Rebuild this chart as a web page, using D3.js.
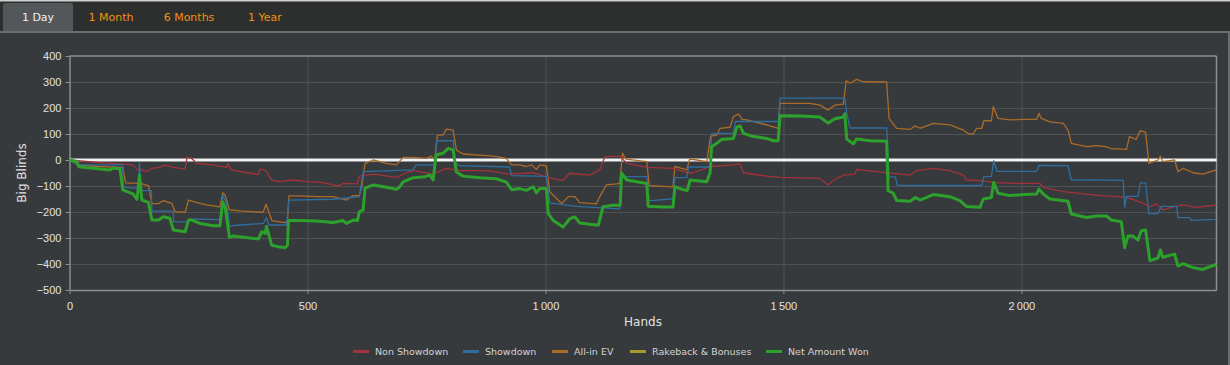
<!DOCTYPE html>
<html>
<head>
<meta charset="utf-8">
<script src="https://cdn.jsdelivr.net/npm/d3@7"></script>
<style>
  html, body { margin: 0; padding: 0; background: #373a3d; }
  body { width: 1230px; height: 365px; overflow: hidden; font-family: "DejaVu Sans", Verdana, sans-serif; }
  .axis text { fill: #e2e2e2; font-size: 11px; }
  .axis path, .axis line { stroke: #8c8e90; }
  .grid line { stroke: #4e5255; }
  .line { fill: none; stroke-linejoin: round; }
</style>
</head>
<body>
<div id="chart"></div>
<script>
// tabs above the chart
const tabs = ['1 Day', '1 Month', '6 Months', '1 Year'];
const tabX = [38, 111, 189, 265];

const yTicks = [400, 300, 200, 100, 0, -100, -200, -300, -400, -500];
const xTicks = [0, 500, 1000, 1500, 2000];

const seriesNames = ['Non Showdown', 'Showdown', 'All-in EV', 'Rakeback & Bonuses', 'Net Amount Won'];
const seriesColors = ['#a3323a', '#2f6e9f', '#ab6b28', '#a39b2c', '#2ca22c'];

// [hand, big blinds]
const nonShowdown = [
  [0, 0], [64, -10], [106, -15], [134, -19], [142, -38], [152, -38], [162, -45], [173, -32], [190, -28],
  [200, -19], [218, -28], [243, -35], [247, 10], [257, 6], [267, -13], [302, -19], [330, -28], [333, -15],
  [340, -38], [372, -49], [397, -55], [400, -35], [411, -38], [425, -77], [442, -83], [470, -77], [498, -83],
  [533, -87], [554, -96], [564, -100], [575, -90], [605, -92], [609, -62], [638, -54], [687, -67], [708, -49],
  [722, -41], [764, -54], [792, -32], [820, -41], [876, -41], [925, -54], [974, -49], [1016, -72], [1037, -78],
  [1051, -51], [1093, -58], [1114, -38], [1125, 13], [1156, 15], [1171, -13], [1213, -28], [1268, -32],
  [1297, -49], [1311, -49], [1346, -25], [1395, -19], [1409, -15], [1416, -49], [1465, -62], [1493, -67],
  [1577, -71], [1594, -96], [1608, -74], [1626, -58], [1650, -54], [1654, -36], [1696, -45], [1745, -54],
  [1766, -58], [1780, -41], [1815, -32], [1850, -41], [1878, -58], [1885, -77], [1913, -79], [1948, -87],
  [1990, -90], [2039, -90], [2046, -105], [2088, -122], [2137, -131], [2172, -138], [2207, -141], [2234, -151],
  [2256, -167], [2270, -180], [2284, -169], [2298, -192], [2319, -180], [2340, -173], [2368, -182], [2410, -173]
];

const showdown = [
  [0, 0], [18, -19], [112, -19], [113, -103], [128, -108], [146, -108], [147, -11], [150, -118], [172, -118],
  [173, -197], [218, -197], [219, -238], [245, -238], [257, -227], [316, -229], [322, -135], [330, -167],
  [336, -254], [358, -250], [407, -244], [414, -222], [419, -250], [456, -250], [461, -154], [554, -151],
  [609, -141], [617, -45], [722, -38], [728, -19], [768, -19], [771, 74], [806, 74], [811, -12], [820, -22],
  [925, -27], [929, -60], [1002, -63], [1009, -165], [1065, -178], [1156, -188], [1160, -64], [1213, -64],
  [1218, -157], [1268, -149], [1272, -68], [1297, -68], [1301, -27], [1346, -27], [1349, 101], [1395, 103],
  [1399, 148], [1490, 148], [1493, 238], [1629, 238], [1633, 181], [1640, 123], [1717, 123], [1722, -65],
  [1735, -65], [1740, -98], [1917, -98], [1921, -65], [1937, -63], [1942, -3], [1949, -44], [2032, -44],
  [2037, -21], [2098, -22], [2105, -76], [2214, -78], [2217, -181], [2221, -140], [2245, -140], [2250, -88],
  [2261, -88], [2268, -206], [2287, -206], [2294, -178], [2326, -178], [2329, -222], [2354, -222],
  [2357, -232], [2410, -228]
];

const allInEv = [
  [0, 0], [18, -19], [64, -25], [106, -28], [112, -30], [118, -88], [147, -90], [152, -92], [166, -99],
  [173, -168], [187, -168], [197, -156], [215, -167], [222, -199], [243, -201], [250, -154], [260, -160],
  [288, -173], [316, -180], [322, -126], [327, -135], [336, -192], [358, -196], [407, -201], [413, -170],
  [425, -233], [453, -241], [458, -233], [461, -138], [484, -138], [519, -141], [554, -141], [582, -154],
  [596, -137], [609, -137], [614, -103], [621, -13], [638, 0], [666, -13], [687, -19], [701, 10], [722, 10],
  [750, 6], [760, 15], [768, 0], [773, 96], [785, 96], [792, 119], [806, 115], [813, 38], [827, 23],
  [890, 15], [918, 6], [929, -19], [946, -19], [960, -25], [971, -19], [981, -36], [988, -19], [1002, -23],
  [1009, -122], [1034, -167], [1048, -141], [1062, -141], [1072, -164], [1107, -169], [1114, -141],
  [1128, -96], [1149, -92], [1156, -90], [1162, 26], [1169, 3], [1213, -6], [1218, -99], [1268, -103],
  [1272, -25], [1297, -38], [1303, 3], [1318, 0], [1339, -6], [1347, 92], [1360, 96], [1367, 122],
  [1388, 126], [1395, 167], [1406, 177], [1413, 156], [1423, 154], [1465, 135], [1489, 122], [1493, 218],
  [1556, 218], [1577, 211], [1594, 192], [1608, 211], [1626, 215], [1632, 305], [1640, 295], [1654, 310],
  [1668, 301], [1717, 300], [1722, 160], [1738, 122], [1766, 118], [1777, 131], [1787, 122], [1815, 141],
  [1850, 135], [1878, 115], [1889, 100], [1899, 100], [1906, 122], [1917, 122], [1921, 151], [1937, 151],
  [1941, 205], [1951, 160], [1976, 154], [2004, 156], [2032, 156], [2037, 179], [2042, 160], [2060, 147],
  [2088, 141], [2098, 115], [2105, 64], [2137, 51], [2158, 55], [2179, 51], [2189, 44], [2221, 41],
  [2227, 90], [2241, 79], [2250, 113], [2261, 106], [2268, -13], [2287, 0], [2292, 15], [2297, -6],
  [2322, 0], [2329, -45], [2340, -32], [2361, -49], [2381, -54], [2410, -38]
];

const rakeback = [[0, 0], [2410, 0]];

const netWon = [
  [0, 0], [15, -6], [20, -26], [64, -35], [85, -38], [92, -31], [106, -35], [112, -115], [120, -121],
  [134, -131], [142, -151], [147, -58], [152, -154], [166, -163], [173, -231], [187, -231], [197, -218],
  [211, -224], [218, -269], [243, -276], [250, -231], [257, -231], [274, -244], [302, -253], [316, -253],
  [322, -161], [327, -181], [336, -297], [344, -292], [393, -303], [397, -303], [404, -276], [411, -282],
  [414, -256], [425, -328], [442, -335], [453, -337], [458, -328], [460, -233], [484, -233], [519, -235],
  [554, -240], [575, -233], [582, -244], [596, -231], [605, -233], [609, -199], [617, -192], [621, -108],
  [638, -96], [666, -105], [687, -113], [694, -103], [701, -84], [722, -68], [747, -64], [757, -58],
  [764, -77], [770, 19], [785, 26], [796, 45], [806, 38], [813, -46], [827, -62], [862, -68], [897, -72],
  [918, -85], [929, -114], [946, -110], [960, -117], [974, -103], [981, -126], [988, -110], [1002, -110],
  [1006, -206], [1016, -232], [1037, -258], [1051, -226], [1062, -219], [1072, -242], [1093, -247],
  [1111, -251], [1121, -180], [1142, -174], [1157, -174], [1160, -51], [1171, -77], [1192, -84], [1213, -90],
  [1216, -178], [1247, -181], [1268, -181], [1272, -103], [1289, -114], [1298, -117], [1304, -77],
  [1339, -84], [1346, -49], [1349, 51], [1360, 64], [1370, 79], [1395, 83], [1402, 126], [1409, 131],
  [1416, 103], [1437, 90], [1465, 83], [1479, 74], [1489, 74], [1493, 170], [1535, 169], [1577, 165],
  [1594, 142], [1608, 159], [1626, 165], [1629, 178], [1633, 81], [1647, 62], [1654, 81], [1682, 74],
  [1717, 72], [1720, -118], [1731, -128], [1738, -156], [1766, -159], [1777, -144], [1787, -154],
  [1815, -133], [1850, -141], [1871, -156], [1885, -179], [1913, -182], [1920, -150], [1937, -144],
  [1942, -86], [1951, -128], [1976, -137], [2004, -133], [2032, -131], [2037, -112], [2046, -131],
  [2060, -150], [2098, -159], [2105, -208], [2137, -221], [2158, -215], [2179, -215], [2189, -231],
  [2210, -237], [2217, -337], [2224, -292], [2234, -292], [2245, -308], [2252, -272], [2261, -269],
  [2270, -387], [2287, -377], [2292, -346], [2297, -374], [2322, -362], [2329, -408], [2340, -399],
  [2361, -414], [2381, -421], [2410, -401]
];

const W = 1230, H = 365;
const margin = {top: 56, right: 13.5, bottom: 75, left: 69.5};
const width = W - margin.left - margin.right;
const height = H - margin.top - margin.bottom;

const svg = d3.select('#chart').append('svg')
  .attr('width', W)
  .attr('height', H);

// panel background and tab bar
svg.append('rect').attr('width', W).attr('height', H).attr('fill', '#373a3d');
svg.append('rect').attr('width', W).attr('height', 32).attr('fill', '#2d2f2e');
svg.append('rect').attr('width', W).attr('height', 1.5).attr('fill', '#cfcfcf');
svg.append('rect').attr('y', 31).attr('width', W).attr('height', 2).attr('fill', '#6b6d6e');
svg.append('rect').attr('x', W - 2).attr('y', 31).attr('width', 2).attr('height', H - 31).attr('fill', '#6b6d6e');

svg.append('path')
  .attr('d', 'M3,31 V6 Q3,3 6,3 H70 Q73,3 73,6 V31 Z')
  .attr('fill', '#53575a');

svg.selectAll('.tab')
  .data(tabs)
  .enter().append('text')
  .attr('class', 'tab')
  .attr('x', (d, i) => tabX[i])
  .attr('y', 21)
  .attr('text-anchor', 'middle')
  .style('font-size', '11px')
  .style('fill', (d, i) => i === 0 ? '#f0f0f0' : '#f0920e')
  .text(d => d);

const chart = svg.append('g')
  .attr('transform', `translate(${margin.left}, ${margin.top})`);

const xScale = d3.scaleLinear().domain([0, 2410]).range([0, width]);
const yScale = d3.scaleLinear().domain([-500, 400]).range([height, 0]);

// grid
chart.append('g').attr('class', 'grid')
  .selectAll('line').data(yTicks.filter(d => d !== -500 && d !== 400)).enter().append('line')
  .attr('x1', 0).attr('x2', width)
  .attr('y1', d => Math.round(yScale(d)) + 0.5).attr('y2', d => Math.round(yScale(d)) + 0.5);
chart.append('g').attr('class', 'grid')
  .selectAll('line').data(xTicks.filter(d => d !== 0)).enter().append('line')
  .attr('y1', 0).attr('y2', height)
  .attr('x1', d => Math.round(xScale(d)) + 0.5).attr('x2', d => Math.round(xScale(d)) + 0.5);

// frame top / right
chart.append('line').attr('x1', 0).attr('x2', width).attr('y1', 0).attr('y2', 0)
  .attr('stroke', '#8c8e90').attr('stroke-width', 1.5);
chart.append('line').attr('x1', width).attr('x2', width).attr('y1', 0).attr('y2', height)
  .attr('stroke', '#8c8e90').attr('stroke-width', 1.5);

const fmt = d => d3.format(',')(d).replace(/,/g, '\u2009');

chart.append('g')
  .attr('class', 'axis axis-x')
  .attr('transform', `translate(0, ${height})`)
  .call(d3.axisBottom(xScale).tickValues(xTicks).tickSize(4).tickSizeOuter(0).tickFormat(d => d >= 1000 ? fmt(d) : d))
  .call(g => g.select('.domain').attr('stroke-width', 1.5))
  .call(g => g.selectAll('text').attr('dy', '1.2em'));

chart.append('g')
  .attr('class', 'axis axis-y')
  .call(d3.axisLeft(yScale).tickValues(yTicks).tickSize(4).tickSizeOuter(0))
  .call(g => g.select('.domain').attr('stroke-width', 1.5))
  .call(g => g.selectAll('text').attr('dx', '-0.1em'));

svg.append('text')
  .attr('x', 643).attr('y', 326)
  .attr('text-anchor', 'middle')
  .style('font-size', '12px').style('fill', '#e2e2e2')
  .text('Hands');

svg.append('text')
  .attr('transform', 'translate(26, 173) rotate(-90)')
  .attr('text-anchor', 'middle')
  .style('font-size', '12px').style('fill', '#e2e2e2')
  .text('Big Blinds');

const line = d3.line()
  .x(d => xScale(d[0]))
  .y(d => yScale(d[1]));

const plot = chart.append('g').attr('class', 'lines');

// zero line
plot.append('line')
  .attr('x1', 0).attr('x2', width)
  .attr('y1', yScale(0)).attr('y2', yScale(0))
  .attr('stroke', '#f2f2f2').attr('stroke-width', 3);

const seriesData = [nonShowdown, showdown, allInEv, rakeback, netWon];
const drawOrder = [3, 2, 0, 1, 4];
drawOrder.forEach(i => {
  if (i === 3) return; // rakeback sits on zero, hidden by the zero line
  plot.append('path')
    .datum(seriesData[i])
    .attr('class', 'line')
    .attr('stroke', seriesColors[i])
    .attr('stroke-width', i === 4 ? 3 : 1.3)
    .attr('d', line);
});

// legend
const legendX = [353, 463, 552, 630, 766];
const legend = svg.append('g').attr('class', 'legend');
seriesNames.forEach((name, i) => {
  legend.append('rect')
    .attr('x', legendX[i]).attr('y', 350)
    .attr('width', 16).attr('height', 3)
    .attr('fill', seriesColors[i]);
  legend.append('text')
    .attr('x', legendX[i] + 22).attr('y', 355)
    .style('font-size', '9.5px').style('fill', '#d4d4d4')
    .text(name);
});
</script>
</body>
</html>
